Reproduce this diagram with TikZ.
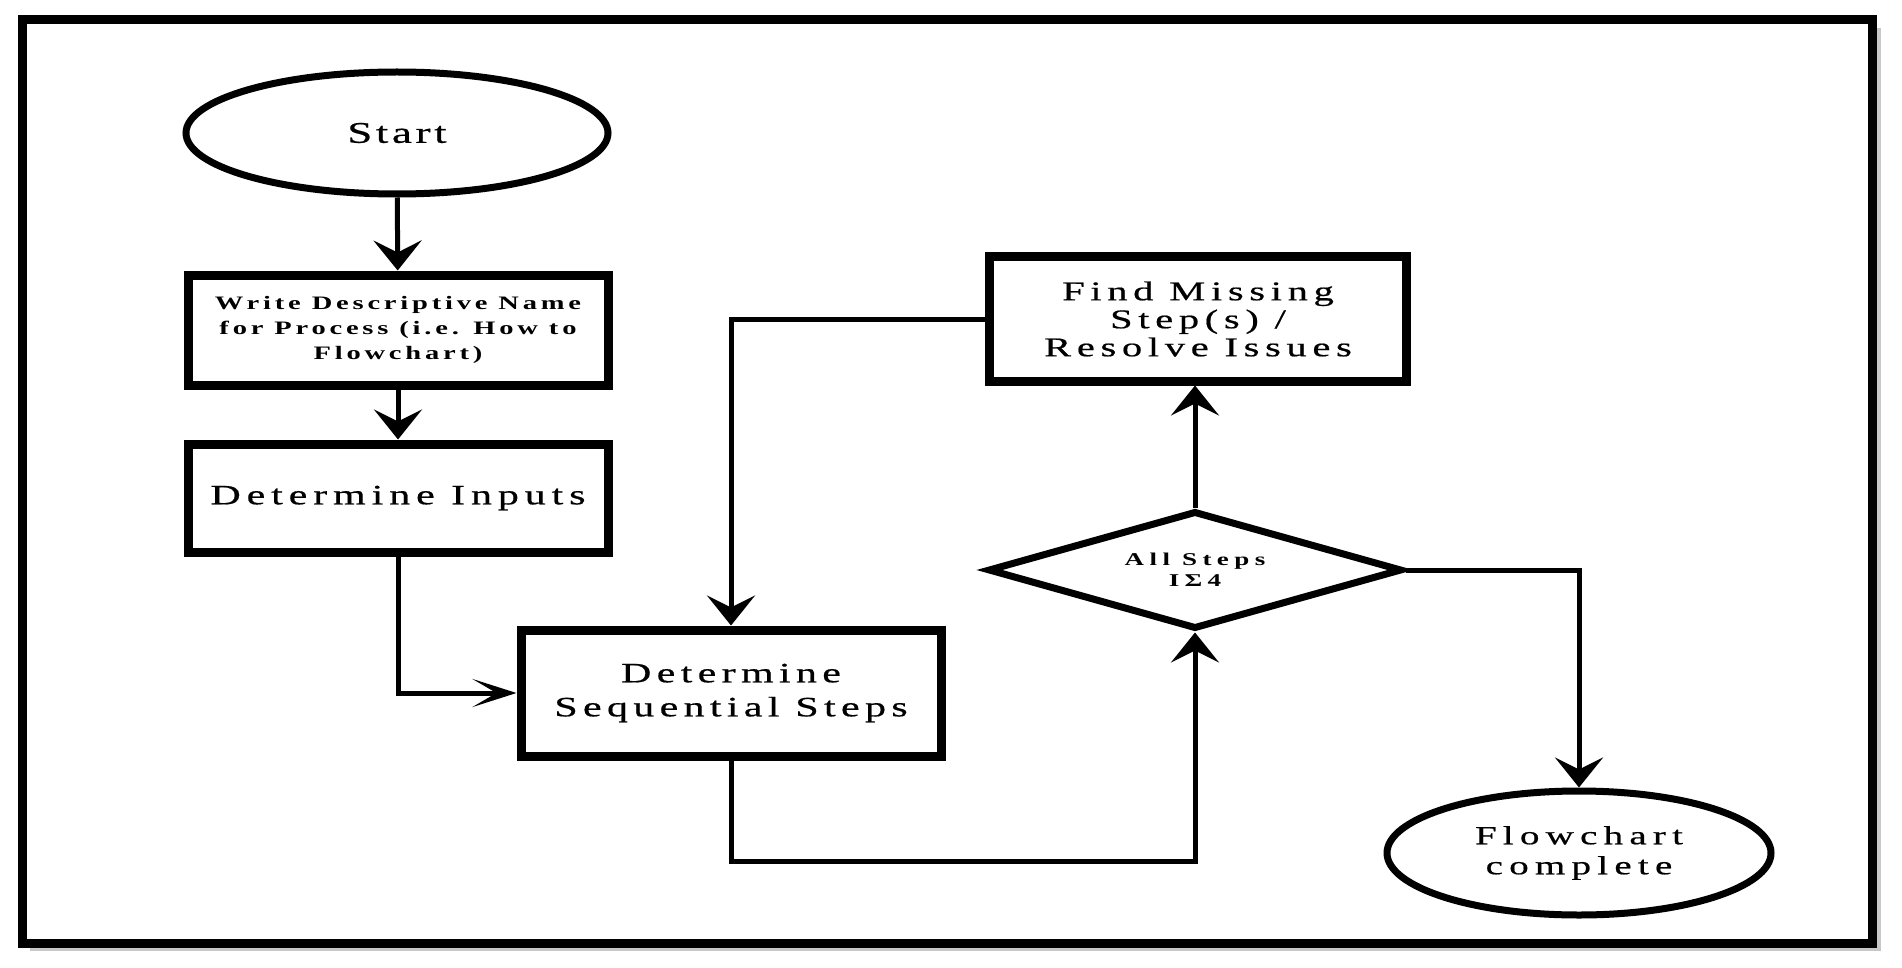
\documentclass[tikz,border=0pt]{standalone}
\usepackage{fontspec}
\setmainfont{Liberation Serif}
\newfontfamily\ff[FakeStretch=1.5,FakeBold=0.6]{Liberation Serif}
\newfontfamily\fb[FakeStretch=1.5]{Liberation Serif Bold}
\usetikzlibrary{shapes.geometric,arrows.meta}
\newcommand\tx[3]{\ff\fontsize{#1}{#2}\selectfont\addfontfeature{LetterSpace=#3}}
\newcommand\tb[3]{\fb\fontsize{#1}{#2}\selectfont\addfontfeature{LetterSpace=#3}}
\begin{document}
\begin{tikzpicture}[x=1pt,y=-1pt,
  box/.style={draw, line width=9pt, minimum width=420pt, align=center, inner sep=0pt, fill=white},
  oval/.style={draw, ellipse, line width=7pt, align=center, inner sep=0pt, fill=white},
  conn/.style={line width=5pt, -{Stealth[length=30pt,width=48pt,inset=12pt]}},
  thinconn/.style={line width=5pt, -{Stealth[length=44pt,width=28pt,inset=24pt]}}]
\useasboundingbox (0,0) rectangle (1902,968);
% frame with shadow
\fill[black!22] (30,28) rectangle (1881,951);
\fill[white] (22,20) rectangle (1872,943);
\draw[line width=9pt] (22,20) rectangle (1872,943);

\node[oval, minimum width=422pt, minimum height=122pt, font=\tx{30}{34}{12}] (start) at (397,133) {Start};
\node[box, minimum height=110pt, font=\tb{19}{25}{20}] (name) at (398,330)
  {Write Descriptive Name\\for Process (i.e. How to\\Flowchart)};
\node[box, minimum height=108pt, font=\tx{28}{32}{21}] (inputs) at (398,498) {Determine Inputs};
\node[box, minimum height=126pt, font=\tx{28}{34}{19}] (seq) at (731,693) {Determine\\Sequential Steps};
\node[box, minimum width=417pt, minimum height=124pt, font=\tx{27}{28}{21}] (find) at (1198,319)
  {Find Missing\\Step(s) /\\Resolve Issues};
\node[draw, diamond, aspect=3.4, line width=7pt, minimum width=414pt, minimum height=118pt, inner sep=0pt,
  align=center, font=\tb{18}{21}{30}] (dia) at (1195,570) {All Steps\\IΣ4};
\node[oval, minimum width=384pt, minimum height=124pt, font=\tx{26}{30}{24}] (end) at (1579,853)
  {Flowchart\\complete};

\coordinate (c1) at (1195,861);

\draw[conn] (start) -- (name);
\draw[conn] (name) -- (inputs);
\draw[thinconn] (inputs.south) |- (seq.west);
\draw[conn] (seq.south) |- (c1) -- (dia.south);
\draw[conn] (dia.north) -- (dia.north |- find.south);
\draw[conn] (find.west) -| (seq.north);
\draw[conn] (dia.east) -| (end.north);
\end{tikzpicture}
\end{document}
